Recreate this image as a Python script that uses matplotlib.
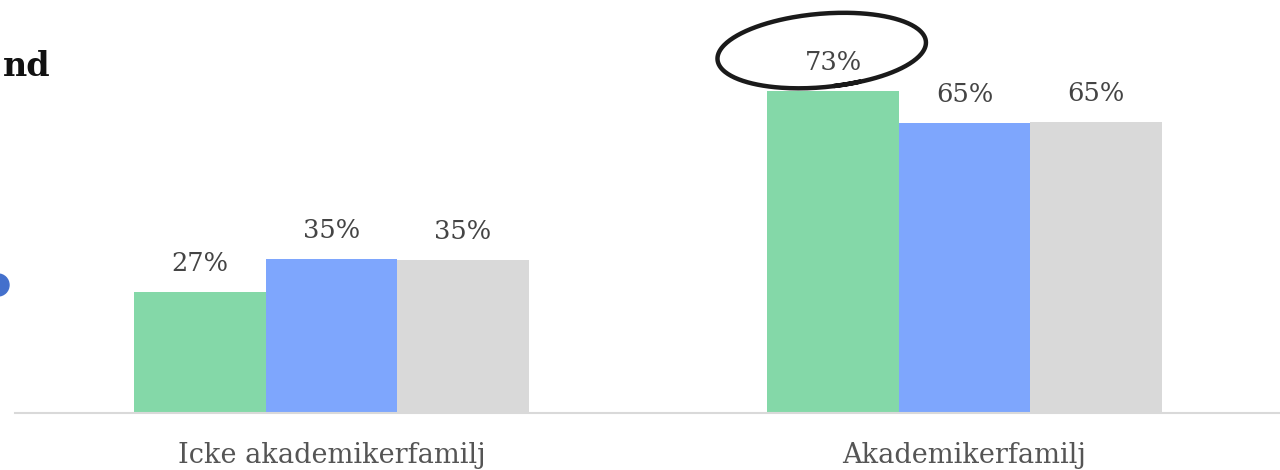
import numpy as np
import matplotlib
matplotlib.use("Agg")
import matplotlib.pyplot as plt
from matplotlib.patches import Circle

categories = ["Icke akademikerfamilj", "Akademikerfamilj"]
series_a = [27.4, 72.9]
series_b = [34.9, 65.6]
series_c = [34.6, 65.8]
labels_a = ["27%", "73%"]
labels_b = ["35%", "65%"]
labels_c = ["35%", "65%"]

colors = ["#84D8A8", "#7EA6FD", "#D9D9D9"]
W, H = 1280, 470
fig = plt.figure(figsize=(W / 100, H / 100), dpi=100)
ax = fig.add_axes([15 / W, (H - 413) / H, (1281 - 15) / W, (413 - 15) / H])

x = np.arange(len(categories))
bw = 0.2077
for off, vals, labs, c in [(-bw, series_a, labels_a, colors[0]),
                           (0, series_b, labels_b, colors[1]),
                           (bw, series_c, labels_c, colors[2])]:
    bars = ax.bar(x + off, vals, width=bw, color=c, linewidth=0, zorder=2)
    for b, lab in zip(bars, labs):
        ax.annotate(lab, (b.get_x() + b.get_width() / 2, b.get_height()),
                    xytext=(0, 11.5), textcoords="offset points", ha="center",
                    va="bottom", fontsize=18.5, color="#444444", family="DejaVu Serif")

ax.set_xlim(-0.5, 1.5)
ax.set_ylim(0, 90)
for s in ["top", "right", "left"]:
    ax.spines[s].set_visible(False)
ax.spines["bottom"].set_color("#D9D9D9")
ax.spines["bottom"].set_linewidth(1.5)
ax.set_yticks([])
ax.set_xticks(x)
ax.set_xticklabels(categories, fontsize=19.5, color="#555555", family="DejaVu Serif")
ax.tick_params(axis="x", length=0, pad=21)

# overlay axes in pixel coordinates for decorations
ov = fig.add_axes([0, 0, 1, 1], zorder=5)
ov.set_xlim(0, W)
ov.set_ylim(H, 0)
ov.axis("off")
ov.patch.set_alpha(0)

ov.text(51, 76, "nd", fontsize=24, fontweight="bold", family="DejaVu Serif",
        ha="right", va="baseline", color="#111111")
ov.add_patch(Circle((-2, 285), 11, color="#4470CC", clip_on=True))

# hand-drawn ellipse around top label
t = np.linspace(np.deg2rad(-70), np.deg2rad(-70 - 375), 300)
cx, cy, a, b = 822, 51, 102, 36
r = 1 + 0.035 * np.sin(np.linspace(0, np.pi, t.size))
rot = np.deg2rad(-5)
ex = a * r * np.cos(t)
ey = -b * r * np.sin(t)
px = cx + ex * np.cos(rot) - ey * np.sin(rot)
py = cy + ex * np.sin(rot) + ey * np.cos(rot)
ov.plot(px, py, color="#1a1a1a", lw=3.2, solid_capstyle="round")

fig.savefig("out.png", dpi=100)
